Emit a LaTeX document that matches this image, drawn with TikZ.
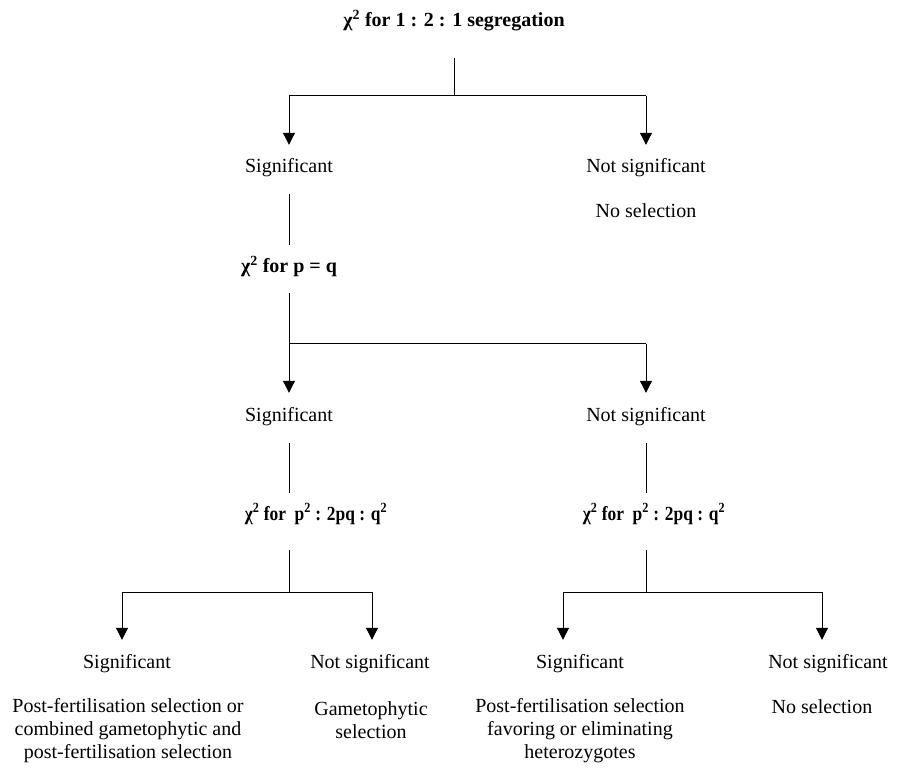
\documentclass[tikz,border=0pt]{standalone}
\usepackage{fontspec}
\setmainfont{Liberation Serif}
\usetikzlibrary{arrows.meta}
\newcommand{\narrowtext}[1]{\scalebox{0.87}[1]{#1}}

\begin{document}
\begin{tikzpicture}[x=1pt,y=-1pt,
    every node/.style={font=\fontsize{20}{23}\selectfont},
    lbl/.style={text height=14pt,text depth=4pt,inner sep=0pt},
    test/.style={lbl,font=\fontsize{20}{23}\selectfont\bfseries},
    note/.style={align=center,inner sep=0pt},
    link/.style={line width=1pt},
    down/.style={link,-{Triangle[width=12pt,length=12pt]},shorten >=14pt}]
  \useasboundingbox (0,0) rectangle (898,770);
  \draw
    (454,22) node[test] (top){χ\textsuperscript{2} for 1 : 2 : 1 segregation}
    (289,168) node[lbl] (sig1){Significant}
    (646,168) node[lbl] (ns1){Not significant}
    (646,213) node[lbl] (nosel1){No selection}
    (289,268) node[test] (chi1){χ\textsuperscript{2} for p = q}
    (289,416) node[lbl] (sig2){Significant}
    (646,416) node[lbl] (ns2){Not significant}
    (316,515) node[test] (chiL){\narrowtext{χ\textsuperscript{2} for~ p\textsuperscript{2} : 2pq : q\textsuperscript{2}}}
    (654,515) node[test] (chiR){\narrowtext{χ\textsuperscript{2} for~ p\textsuperscript{2} : 2pq : q\textsuperscript{2}}}
    (127,663) node[lbl] (sigLL){Significant}
    (370,663) node[lbl] (nsLR){Not significant}
    (580,663) node[lbl] (sigRL){Significant}
    (828,663) node[lbl] (nsRR){Not significant}
    (128,731) node[note] (selLL){Post-fertilisation selection or\\combined gametophytic and\\post-fertilisation selection}
    (371,720) node[note] (selLR){Gametophytic\\selection}
    (580,731) node[note] (selRL){Post-fertilisation selection\\favoring or eliminating\\heterozygotes}
    (822,708) node[lbl] (selRR){No selection};
  \coordinate (j0) at (454,96);
  \coordinate (j0l) at (289,96);
  \coordinate (j0r) at (646,96);
  \coordinate (j1l) at (289,344);
  \coordinate (j1r) at (646,344);
  \coordinate (j2) at (289,592);
  \coordinate (j2l) at (122,592);
  \coordinate (j2r) at (372,592);
  \coordinate (j3) at (646,592);
  \coordinate (j3l) at (563,592);
  \coordinate (j3r) at (822,592);
  \begin{scope}[link]
    \draw[shorten <=27pt] (top.south) to (j0);
    \draw (j0l) to (j0r);
    \draw[down] (j0l) to (j0l |- sig1.north);
    \draw[down] (j0r) to (j0r |- ns1.north);
    \draw[shorten <=17pt,shorten >=14pt] (sig1.south) to (chi1.north);
    \draw[shorten <=16pt] (chi1.south) to (j1l);
    \draw (j1l) to (j1r);
    \draw[down] (j1l) to (j1l |- sig2.north);
    \draw[down] (j1r) to (j1r |- ns2.north);
    \draw[shorten <=18pt,shorten >=13pt] (sig2.south) to (sig2.south |- chiL.north);
    \draw[shorten <=18pt,shorten >=13pt] (ns2.south) to (ns2.south |- chiR.north);
    \draw[shorten <=26pt] (j2 |- chiL.south) to (j2);
    \draw (j2l) to (j2r);
    \draw[down] (j2l) to (j2l |- sigLL.north);
    \draw[down] (j2r) to (j2r |- nsLR.north);
    \draw[shorten <=26pt] (j3 |- chiR.south) to (j3);
    \draw (j3l) to (j3r);
    \draw[down] (j3l) to (j3l |- sigRL.north);
    \draw[down] (j3r) to (j3r |- nsRR.north);
  \end{scope}
\end{tikzpicture}
\end{document}
